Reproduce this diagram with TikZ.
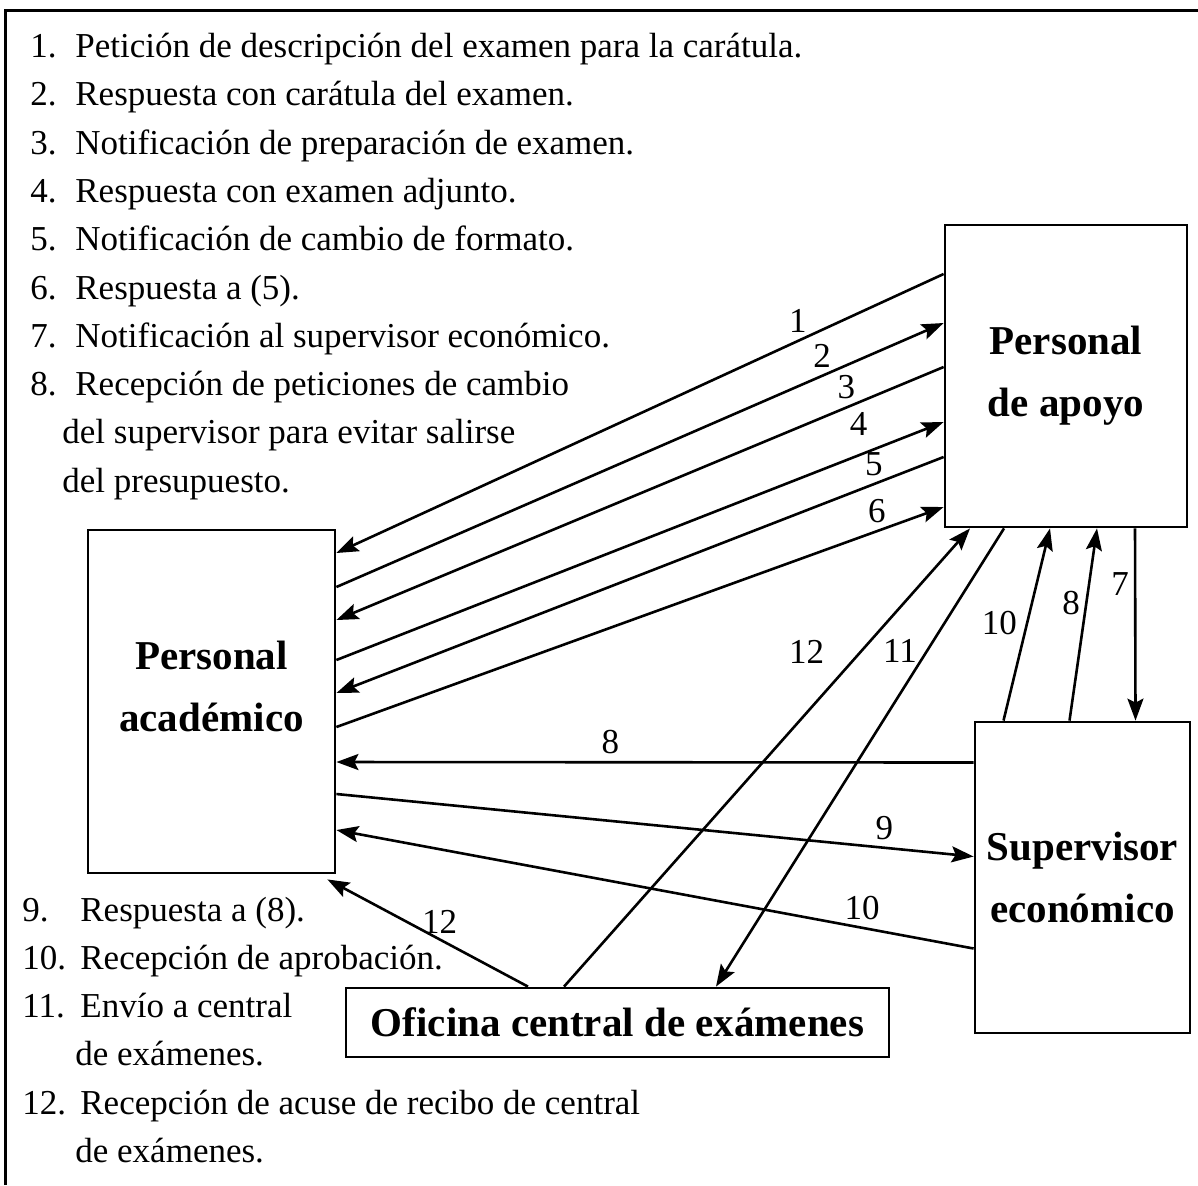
\documentclass[tikz,border=0pt]{standalone}
\usepackage{fontspec}
\setmainfont{Liberation Serif}
\usetikzlibrary{arrows.meta, positioning}

\tikzset{
  box/.style={draw, line width=1.4pt, align=center, inner sep=0pt,
    font=\fontsize{20.5}{31}\selectfont\bfseries},
  item/.style={anchor=base west, inner sep=0pt, font=\fontsize{17.5}{21}\selectfont},
  flow/.style={line width=1.3pt, -{Stealth[length=11pt, width=8pt, inset=2pt]}},
  num/.style={inner sep=1.5pt, font=\fontsize{17.5}{21}\selectfont},
}

\begin{document}
\begin{tikzpicture}[x=0.5pt, y=-0.5pt]
    \useasboundingbox (0,0) rectangle (1198,1185);
    % frame
    \draw[line width=1.5pt] (5,1185) -- (5,10) -- (1198,10);

    % list of messages
    \node[item] (t1) at (30,57) {\makebox[22.5pt][l]{1.}Petición de descripción del examen para la carátula.};
    \node[item] (t2) at (30,105) {\makebox[22.5pt][l]{2.}Respuesta con carátula del examen.};
    \node[item] (t3) at (30,154) {\makebox[22.5pt][l]{3.}Notificación de preparación de examen.};
    \node[item] (t4) at (30,202) {\makebox[22.5pt][l]{4.}Respuesta con examen adjunto.};
    \node[item] (t5) at (30,250) {\makebox[22.5pt][l]{5.}Notificación de cambio de formato.};
    \node[item] (t6) at (30,299) {\makebox[22.5pt][l]{6.}Respuesta a (5).};
    \node[item] (t7) at (30,347) {\makebox[22.5pt][l]{7.}Notificación al supervisor económico.};
    \node[item] (t8) at (30,395) {\makebox[22.5pt][l]{8.}Recepción de peticiones de cambio};
    \node[item] (t8b) at (62,443) {del supervisor para evitar salirse};
    \node[item] (t8c) at (62,492) {del presupuesto.};
    \node[item] (t9) at (22,921) {\makebox[29pt][l]{9.}Respuesta a (8).};
    \node[item] (t10) at (22,969) {\makebox[29pt][l]{10.}Recepción de aprobación.};
    \node[item] (t11) at (22,1017) {\makebox[29pt][l]{11.}Envío a central};
    \node[item] (t11b) at (75,1065) {de exámenes.};
    \node[item] (t12) at (22,1114) {\makebox[29pt][l]{12.}Recepción de acuse de recibo de central};
    \node[item] (t12b) at (75,1162) {de exámenes.};

    % actors
    \node[box, minimum width=123.5pt, minimum height=171.5pt] (acad) at (211.5,701.5) {Personal\\académico\\[-16pt]\mbox{}};
    \node[box, minimum width=121pt, minimum height=151pt] (apoyo) at (1066,376) {Personal\\de apoyo};
    \node[box, minimum width=107.5pt, minimum height=155.5pt] (sup) at (1082.5,877.5) {Supervisor\\económico};
    \node[box, minimum width=271.5pt, minimum height=34.5pt] (ofi) at (617.5,1022.5) {Oficina central de exámenes};

    % messages 1-6
    \draw[flow] ([yshift=51pt]apoyo.west) -- node[num, pos=0.24, above=2pt] (n1) {1} ([yshift=74.25pt]acad.east);
    \draw[flow] ([yshift=57.25pt]acad.east) -- node[num, pos=0.80, above=2pt] (n2) {2} ([yshift=26.5pt]apoyo.west);
    \draw[flow] ([yshift=4.5pt]apoyo.west) -- node[num, pos=0.16, above=2pt] (n3) {3} ([yshift=40.75pt]acad.east);
    \draw[flow] ([yshift=20.75pt]acad.east) -- node[num, pos=0.86, above=8pt] (n4) {4} ([yshift=-23pt]apoyo.west);
    \draw[flow] ([yshift=-40.5pt]apoyo.west) -- node[num, pos=0.115, above=2pt] (n5) {5} ([yshift=4.25pt]acad.east);
    \draw[flow] ([yshift=-12.75pt]acad.east) -- node[num, pos=0.89, above=2pt] (n6) {6} ([yshift=-65.5pt]apoyo.west);

    % supervisor
    \draw[flow] ([xshift=34.5pt]apoyo.south) -- node[num, pos=0.29, left=1pt] (n7) {7} ([xshift=26.5pt]sup.north);
    \draw[flow] ([xshift=-6.5pt]sup.north) -- node[num, pos=0.61, left=1pt] (n8b) {8} ([xshift=15.5pt]apoyo.south);
    \draw[flow] ([xshift=-39.5pt]sup.north) -- node[num, pos=0.51, left=3pt] (n10b) {10} ([xshift=-8pt]apoyo.south);
    \draw[flow] ([yshift=57.5pt]sup.west) -- node[num, pos=0.57, above=2pt] (n8) {8} ([yshift=-30.25pt]acad.east);
    \draw[flow] ([yshift=-46.25pt]acad.east) -- node[num, pos=0.86, above=2pt] (n9) {9} ([yshift=10.5pt]sup.west);
    \draw[flow] ([yshift=-35.5pt]sup.west) -- node[num, pos=0.175, above=2pt] (n10) {10} ([yshift=-64.25pt]acad.east);

    % central office
    \draw[flow] ([xshift=-31pt]apoyo.south) -- node[num, pos=0.267, left=3pt] (n11) {11} ([xshift=49.25pt]ofi.north);
    \draw[flow] ([xshift=-26.75pt]ofi.north) -- node[num, pos=0.73, left=16pt] (n12b) {12} ([xshift=-48pt]apoyo.south);
    \draw[flow] ([xshift=-44.75pt]ofi.north) -- node[num, pos=0.44, above=1pt] (n12) {12} ([xshift=-4.5pt, yshift=-2.5pt]acad.south east);
\end{tikzpicture}
\end{document}
